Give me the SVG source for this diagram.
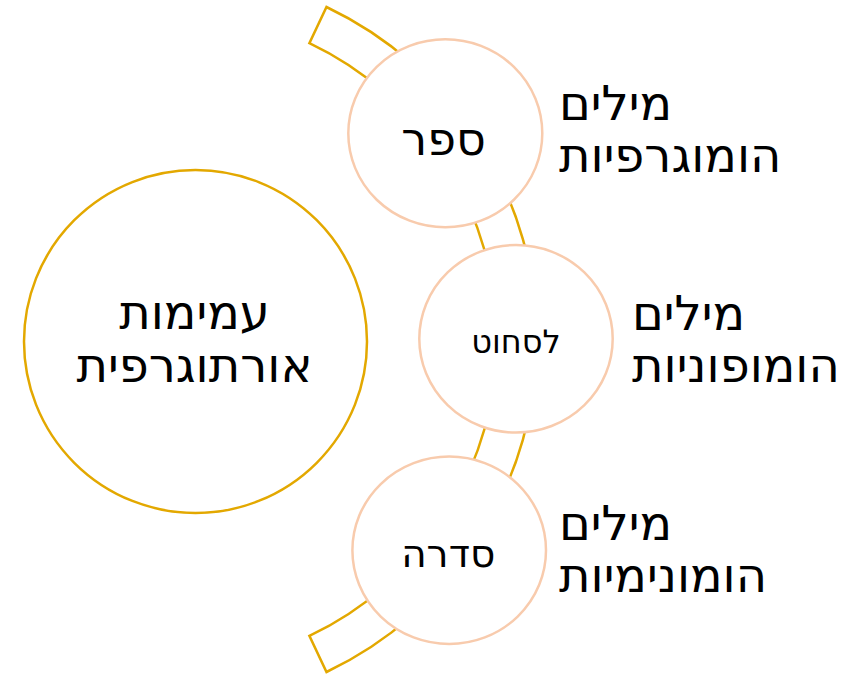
<svg xmlns="http://www.w3.org/2000/svg" width="843" height="674" viewBox="0 0 843 674">
<style>
  .band { fill: none; stroke: #E3A800; stroke-width: 2.5; }
  .big { fill: #FFFFFF; stroke: #E3A800; stroke-width: 2.5; }
  .node { fill: #FFFFFF; stroke: #F8CBAD; stroke-width: 2.5; }
  text { font-family: "DejaVu Sans", "Noto Sans", sans-serif; fill: #000000; }
  .lbl { font-size: 48px; }
</style>
<rect width="843" height="674" fill="#FFFFFF"/>
<g id="connectors">
  <path class="band" d="M 326.5 7 A 368 368 0 0 1 326.5 672 L 309.4 635.9 A 328 328 0 0 0 309.4 43.1 Z"/>
</g>
<g id="main">
  <circle class="big" cx="195.5" cy="341.5" r="171.5"/>
  <text class="lbl" x="194.5" y="328.5" text-anchor="middle">עמימות</text>
  <text class="lbl" x="194.5" y="381.7" text-anchor="middle">אורתוגרפית</text>
</g>
<g id="node-sefer">
  <ellipse class="node" cx="445.3" cy="133.3" rx="97" ry="94"/>
  <text x="443.5" y="155" font-size="46" text-anchor="middle">ספר</text>
</g>
<g id="node-lischot">
  <ellipse class="node" cx="516" cy="338.8" rx="96.7" ry="93.8"/>
  <text x="516" y="353.3" font-size="32" text-anchor="middle">לסחוט</text>
</g>
<g id="node-sidra">
  <ellipse class="node" cx="449.2" cy="550.3" rx="96.8" ry="93.7"/>
  <text x="448.2" y="566.7" font-size="39" text-anchor="middle">סדרה</text>
</g>
<g id="label-homographs">
  <text class="lbl" x="559" y="120">מילים</text>
  <text class="lbl" x="559" y="172">הומוגרפיות</text>
</g>
<g id="label-homophones">
  <text class="lbl" x="632" y="330">מילים</text>
  <text class="lbl" x="632" y="382">הומופוניות</text>
</g>
<g id="label-homonyms">
  <text class="lbl" x="559" y="540">מילים</text>
  <text class="lbl" x="559" y="592">הומונימיות</text>
</g>
</svg>
